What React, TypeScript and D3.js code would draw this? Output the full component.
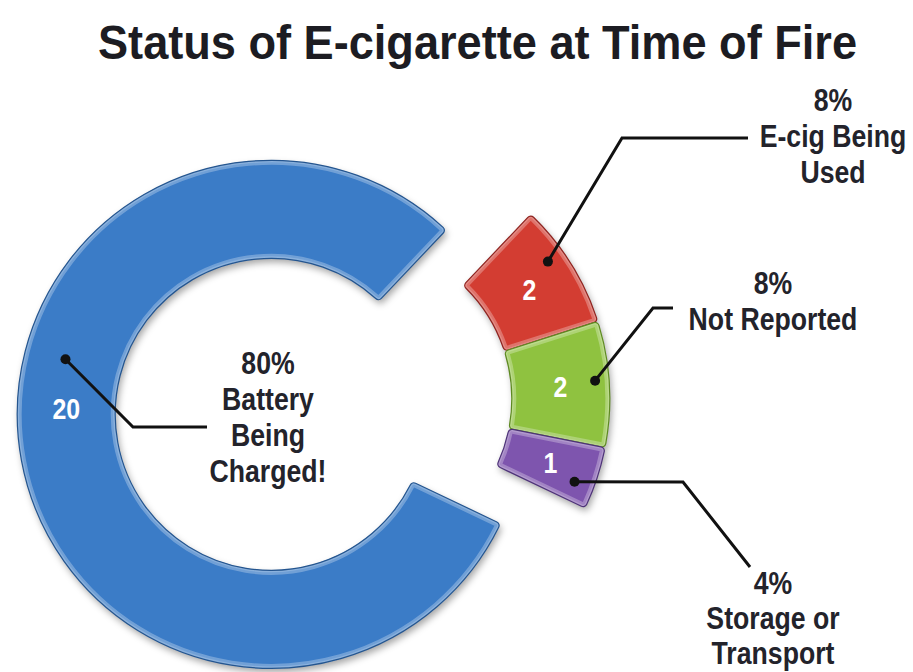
import React from "react";
import * as d3 from "d3";

// ---- data ----
const categories = ["E-cig Being Used", "Not Reported", "Storage or Transport", "Battery Being Charged!"];
const counts = [2, 2, 1, 20];
const labelLines = [["E-cig Being", "Used"], ["Not Reported"], ["Storage or", "Transport"], ["Battery", "Being", "Charged!"]];
const colors = ["#d33c33", "#8fc23f", "#7e55ae", "#3b7bc7"];
const strokeColors = ["#8e2420", "#5e8a22", "#4e3378", "#24558f"];
const titleText = "Status of E-cigarette at Time of Fire";

// ---- layout ----
const W = 913;
const H = 672;
const pieCenter: [number, number] = [313.5, 406.5];
const outerR = 254;
const innerR = 156;
const explode = 43;
const startDeg = 43.5;
// callout layout: dot angle/radius (deg, px) relative to the slice's own center, elbow, end, text anchor
const callouts = [
  { dotDeg: 54.5, dotR: 236, elbow: [622, 138], end: [748, 138], text: [833, 100] },
  { dotDeg: 85.7, dotR: 240, elbow: [653, 308], end: [673, 308], text: [773, 283] },
  { dotDeg: 110.8, dotR: 234, elbow: [683, 482], end: [750, 567], text: [773, 583] },
  { dotDeg: 285, dotR: 213, elbow: [133, 427], end: [207, 427], text: [268, 363] },
];
const valueLabelDeg = [null, null, null, 271.5];
const lineGap = 36;
const labelFont = "'Liberation Sans', Arial, sans-serif";
const condense = 0.86;

const rad = (d: number) => (d * Math.PI) / 180;
const polar = (a: number, r: number): [number, number] => [r * Math.sin(a), -r * Math.cos(a)];

export default function App() {
  const total = d3.sum(counts);
  const pie = d3
    .pie<number>()
    .sort(null)
    .startAngle(rad(startDeg))
    .endAngle(rad(startDeg + 360));
  const arcs = pie(counts);
  const arc = d3.arc<d3.PieArcDatum<number>>().innerRadius(innerR).outerRadius(outerR).cornerRadius(4);

  // groups: small slices explode together, the big slice explodes the other way
  const bigIdx = counts.indexOf(d3.max(counts) as number);
  const smallArcs = arcs.filter((_, i) => i !== bigIdx);
  const smallMid = (d3.min(smallArcs, (a) => a.startAngle)! + d3.max(smallArcs, (a) => a.endAngle)!) / 2;
  const bigMid = (arcs[bigIdx].startAngle + arcs[bigIdx].endAngle) / 2;
  const offsetFor = (i: number) => polar(i === bigIdx ? bigMid : smallMid, explode);
  const fmt = d3.format(".0%");

  return (
    <svg
      width={W}
      height={H}
      viewBox={`0 0 ${W} ${H}`}
      style={{ position: "absolute", left: 0, top: 0, background: "#fff" }}
      fontFamily={labelFont}
    >
      <defs>
        <filter id="shadow" x="-20%" y="-20%" width="140%" height="140%">
          <feDropShadow dx="2" dy="4" stdDeviation="3.5" floodColor="#000" floodOpacity="0.35" />
        </filter>
        {arcs.map((a, i) => (
          <clipPath id={`clip${i}`} key={i}>
            <path d={arc(a) || ""} />
          </clipPath>
        ))}
      </defs>

      <text
        x={W / 2 + 21}
        y={59}
        textAnchor="middle"
        fontWeight="bold"
        fontSize={48}
        fill="#1c1c22"
        textLength={759}
        lengthAdjust="spacingAndGlyphs"
      >
        {titleText}
      </text>

      {arcs.map((a, i) => {
        const [ox, oy] = offsetFor(i);
        const cx = pieCenter[0] + ox;
        const cy = pieCenter[1] + oy;
        const d = arc(a) || "";
        const la = valueLabelDeg[i];
        const [lx, ly] =
          la == null ? arc.centroid(a) : polar(rad(la), (innerR + outerR) / 2);
        return (
          <g key={categories[i]} transform={`translate(${cx},${cy})`}>
            <path d={d} fill={colors[i]} filter="url(#shadow)" />
            <g clipPath={`url(#clip${i})`}>
              <path d={d} fill="none" stroke="#ffffff" strokeOpacity={0.28} strokeWidth={9} />
              <path d={d} fill="none" stroke="#ffffff" strokeOpacity={0.18} strokeWidth={4} />
            </g>
            <path d={d} fill="none" stroke={strokeColors[i]} strokeWidth={1.2} />
            <text
              transform={`translate(${lx},${ly}) scale(${condense},1)`}
              dy="0.36em"
              textAnchor="middle"
              fill="#fff"
              fontWeight="bold"
              fontSize={29}
            >
              {counts[i]}
            </text>
          </g>
        );
      })}

      {arcs.map((a, i) => {
        const [ox, oy] = offsetFor(i);
        const c = callouts[i];
        const [dx, dy] = polar(rad(c.dotDeg), c.dotR);
        const px = pieCenter[0] + ox + dx;
        const py = pieCenter[1] + oy + dy;
        const lines = [fmt(counts[i] / total), ...labelLines[i]];
        return (
          <g key={"c" + i}>
            <polyline
              points={`${px},${py} ${c.elbow[0]},${c.elbow[1]} ${c.end[0]},${c.end[1]}`}
              fill="none"
              stroke="#111"
              strokeWidth={3}
              strokeLinejoin="miter"
            />
            <circle cx={px} cy={py} r={5} fill="#111" />
            {lines.map((t, j) => (
              <text
                key={j}
                transform={`translate(${c.text[0]},${c.text[1] + j * (i === 2 ? 35 : lineGap)}) scale(${condense},1)`}
                dy="0.36em"
                textAnchor="middle"
                fontWeight="bold"
                fontSize={31}
                fill="#23232b"
              >
                {t}
              </text>
            ))}
          </g>
        );
      })}
    </svg>
  );
}
